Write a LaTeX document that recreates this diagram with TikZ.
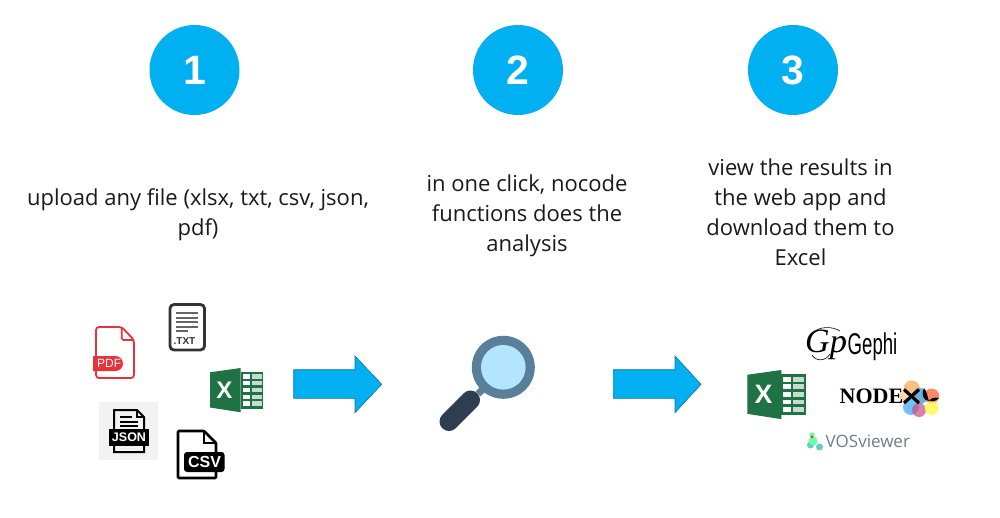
\documentclass[tikz,border=0pt]{standalone}
\usepackage{fontspec}
\setmainfont{Open Sans}
\newfontfamily\arialf{Liberation Sans}
\newfontfamily\serifb{Liberation Serif}
\definecolor{cyanfill}{HTML}{00B0F0}
\definecolor{arrowline}{HTML}{1B6F9C}
\definecolor{xlgreen}{HTML}{1F7244}
\definecolor{pdfred}{HTML}{E5323B}
\definecolor{ringblue}{HTML}{5A7F9A}
\definecolor{lensblue}{HTML}{B3E5FF}
\definecolor{handledark}{HTML}{2C3E50}
\definecolor{bodytext}{HTML}{1A1A1A}
\definecolor{vosgray}{HTML}{6E7F88}
\tikzset{
  x=1pt,y=-1pt,
  stepcircle/.style={circle,fill=cyanfill,minimum size=90pt,inner sep=0pt,text=white,font=\arialf\fontsize{41}{41}\selectfont\bfseries},
  captiontext/.style={align=center,text=bodytext,inner sep=0pt,font=\fontsize{22}{30}\selectfont},
  blockarrow/.style={fill=cyanfill,draw=arrowline,line width=0.6pt,line join=miter},
  pics/excelicon/.style={code={
    \fill[xlgreen] (30.7,4) rectangle (53.3,40.5);
    \foreach \r in {0,1,2,3,4}{
      \fill[white] (32.5,{6.2+\r*6.8}) rectangle (39.8,{10.6+\r*6.8});
      \fill[white!75!xlgreen] (41.6,{6.2+\r*6.8}) rectangle (51.5,{10.6+\r*6.8});
    }
    \fill[xlgreen] (0,4.3) -- (30.7,0) -- (30.7,44.3) -- (0,39.5) -- cycle;
    \node[transform shape,text=white,inner sep=0pt,font=\arialf\fontsize{24}{24}\selectfont\bfseries] at (14.5,22) {X};
  }},
}
\begin{document}
\begin{tikzpicture}
\useasboundingbox (0,0) rectangle (1000,518);
\fill[white] (0,0) rectangle (1000,518);

% step circles
\node[stepcircle] (one) at (194.5,70) {1};
\node[stepcircle] (two) at (518,70) {2};
\node[stepcircle] (three) at (793,70) {3};

% captions
\node[captiontext] (capone) at (198,215) {upload any file (xlsx, txt, csv, json,\\pdf)};
\node[captiontext] (captwo) at (527,215.5) {in one click, nocode\\functions does the\\analysis};
\node[captiontext] (capthree) at (800.5,212) {view the results in\\the web app and\\download them to\\Excel};

% PDF icon
\draw[pdfred,line width=1.8pt,rounded corners=3pt] (121.7,327) -- (96,327) -- (96,378) -- (134,378) -- (134,340) -- cycle;
\draw[pdfred,line width=1.6pt,rounded corners=2pt] (121.7,327) -- (121.7,340) -- (134,340);
\fill[pdfred] (93,356) -- (115.5,356) arc[start angle=-90,end angle=90,radius=7.5] -- (93,371) -- cycle;
\node[text=white,inner sep=0pt,font=\arialf\fontsize{12}{12}\selectfont,anchor=west] (pdflabel) at (97,363.5) {PDF};

% TXT icon
\draw[draw=black!80,line width=2.8pt,rounded corners=4pt] (170,304.5) rectangle (204.5,350);
\foreach \yy/\xe in {313/198,317.5/198,322/198,326.5/198,331/188}{
  \draw[black!60,line width=2pt] (176,\yy) -- (\xe,\yy);
}
\node[text=black!80,inner sep=0pt,font=\arialf\fontsize{10}{10}\selectfont\bfseries] (txtlabel) at (184.5,341.5) {.TXT};

% Excel left
\pic at (210,368) {excelicon};

% JSON icon
\fill[black!5] (99,402) rectangle (158,460);
\draw[black,line width=2pt,line join=miter] (114,410) -- (137,410) -- (144,417) -- (144,452) -- (114,452) -- cycle;
\draw[black,line width=1.2pt] (137,410) -- (137,417) -- (144,417);
\foreach \yy/\xa/\xe in {417/120/132,422/120/138,426/120/138}{
  \draw[black,line width=1.3pt] (\xa,\yy) -- (\xe,\yy);
}
\fill[black] (109,429) rectangle (149,446);
\node[text=white,inner sep=0pt,font=\arialf\fontsize{12.5}{12.5}\selectfont\bfseries] (jsonlabel) at (129,437.5) {JSON};

% CSV icon
\draw[black,line width=2.8pt,line join=round,rounded corners=1pt] (178,431) -- (204,431) -- (216,443) -- (216,478) -- (178,478) -- cycle;
\draw[black,line width=1.8pt] (204,431) -- (204,443) -- (216,443);
\fill[black,rounded corners=3pt] (184,452) rectangle (224.5,472);
\node[text=white,inner sep=0pt,font=\arialf\fontsize{16}{16}\selectfont\bfseries] (csvlabel) at (204.5,462) {CSV};

% block arrows
\draw[blockarrow] (293.7,369.7) -- (355,369.7) -- (355,356) -- (381.7,384.3) -- (355,412.7) -- (355,398.3) -- (293.7,398.3) -- cycle;
\draw[blockarrow] (613.3,369.7) -- (675,369.7) -- (675,356) -- (701,384.3) -- (675,412.7) -- (675,398.3) -- (613.3,398.3) -- cycle;

% magnifier
\draw[ringblue,line width=7pt] (478,394) -- (490,382);
\draw[handledark,line width=19pt,line cap=round] (470.5,400) -- (449,421.5);
\fill[ringblue] (503.3,367.3) circle[radius=31.5];
\fill[lensblue] (503.3,367.3) circle[radius=22.3];

% Excel right
\pic[scale=1.11] at (747.3,370) {excelicon};

% Gephi
\node[inner sep=0pt,text=black,font=\serifb\fontsize{34}{34}\selectfont\itshape] (gephimark) at (826,345) {Gp};
\draw[black,line width=.6pt] (812,334) .. controls (818,326) and (832,326) .. (840,331);
\draw[black,line width=.6pt] (812,355) .. controls (816,362) and (826,361) .. (830,354);
\draw[black,line width=.6pt] (836,352) .. controls (842,352) and (846,346) .. (846,340);
\node[inner sep=0pt,text=black,xscale=0.62,font=\arialf\fontsize{30}{30}\selectfont] (gephi) at (872.5,347) {Gephi};

% NodeXL
\fill[orange!50!white] (911.7,388.3) circle[radius=8];
\fill[cyan!70!blue!70!white,opacity=.85] (920,396) circle[radius=8];
\fill[red!55!orange!85!white,opacity=.7] (931.7,396) circle[radius=7.5];
\fill[blue!45!cyan!65!white,opacity=.85] (911,407) circle[radius=8];
\fill[red!70!blue!70!white,opacity=.7] (919,410) circle[radius=7];
\fill[yellow!65!white,opacity=.85] (931.7,408) circle[radius=7];
\fill[orange!30!white] (900,391) rectangle (908,402);
\node[inner sep=0pt,text=black,font=\serifb\fontsize{22}{22}\selectfont\bfseries,anchor=west] (nodexl) at (839.5,396.5) {NODE};
\draw[black,line width=3.2pt] (904,389.5) -- (919,403);
\draw[black,line width=3.2pt] (919,389.5) -- (904,403);
\fill[black] (924,388) .. controls (921,395) and (923,400) .. (929,401) .. controls (927,396) and (927,392) .. (924,388) -- cycle;
\fill[black] (929,401) .. controls (933,402) and (936,401) .. (939,398) .. controls (935,397) and (931,398) .. (929,401) -- cycle;

% VOSviewer
\fill[green!55!cyan!60!white] (812,435) circle[radius=2.8];
\fill[cyan!55!green!60!white] (810.5,445) circle[radius=3.5];
\fill[cyan!55!green!60!white] (819.5,447) circle[radius=3.5];
\fill[green!55!cyan!60!white] (813,441) circle[radius=4.5];
\fill[orange!90!red] (812,437) circle[radius=1.6];
\fill[red!80!black] (812,437) circle[radius=.8];
\node[inner sep=0pt,text=vosgray,font=\fontsize{17}{17}\selectfont,anchor=west] (vos) at (825.5,441.5) {VOSviewer};
\end{tikzpicture}
\end{document}
